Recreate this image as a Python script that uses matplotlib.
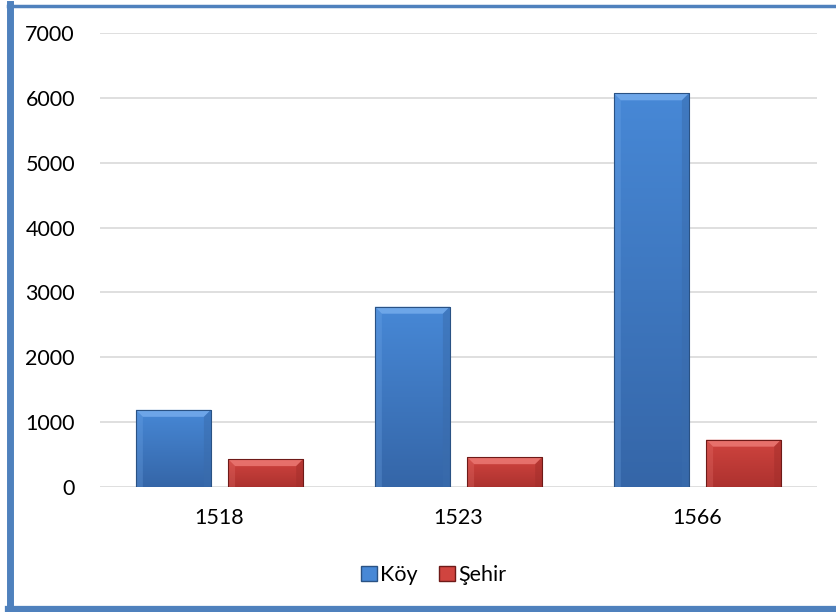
import numpy as np
import matplotlib
matplotlib.use('Agg')
import matplotlib.pyplot as plt
from matplotlib.patches import Rectangle, Polygon, Patch
from matplotlib.lines import Line2D
from matplotlib.colors import LinearSegmentedColormap

years = ['1518', '1523', '1566']
koy = [1190, 2780, 6070]
sehir = [430, 460, 730]
series_names = ['Köy', 'Şehir']

plt.rcParams['font.family'] = ['Lato', 'DejaVu Sans']

# colours: (top, bottom, light bevel, dark bevel, edge)
blue = ('#4788d6', '#3566a8', '#78aeee', '#3a6cac', '#2a5284')
red = ('#d0443f', '#ad322f', '#ee7c77', '#a32e2b', '#6e1a18')

W, H = 837, 612
fig = plt.figure(figsize=(W / 100, H / 100), dpi=100)
ax = fig.add_axes([100 / W, (H - 487) / H, 717 / W, 454 / H])

x = np.arange(len(years))
bar_w = 0.314
off = 0.193
ymax = 7000
px_x = 717 / 3.0          # pixels per category unit
px_y = 454 / ymax         # pixels per value unit
bev = 7                   # bevel size in pixels


def bevel_bar(xc, h, col):
    x0, x1 = xc - bar_w / 2, xc + bar_w / 2
    bx = bev / px_x
    by = min(bev / px_y, h * 0.3)
    rect = Rectangle((x0, 0), bar_w, h, facecolor='none', edgecolor=col[4],
                     linewidth=0.8, zorder=5)
    cmap = LinearSegmentedColormap.from_list('g', [col[1], col[0]])
    grad = np.linspace(0, 1, 100).reshape(-1, 1)
    im = ax.imshow(grad, extent=(x0, x1, 0, h), origin='lower', cmap=cmap,
                   aspect='auto', zorder=3, interpolation='bilinear')
    clip = Rectangle((x0, 0), bar_w, h, transform=ax.transData)
    im.set_clip_path(clip)
    # top bevel
    ax.add_patch(Polygon([(x0, h), (x1, h), (x1 - bx, h - by), (x0 + bx, h - by)],
                         closed=True, facecolor=col[2], edgecolor='none', zorder=4, alpha=0.8))
    # left bevel
    ax.add_patch(Polygon([(x0, 0), (x0, h), (x0 + bx, h - by), (x0 + bx, 0)],
                         closed=True, facecolor=col[2], edgecolor='none', zorder=4, alpha=0.25))
    # right bevel
    ax.add_patch(Polygon([(x1, 0), (x1, h), (x1 - bx, h - by), (x1 - bx, 0)],
                         closed=True, facecolor=col[3], edgecolor='none', zorder=4, alpha=0.5))
    ax.add_patch(rect)


for i in range(len(years)):
    bevel_bar(x[i] - off, koy[i], blue)
    bevel_bar(x[i] + off, sehir[i], red)

ax.set_xlim(-0.5, 2.5)
ax.set_ylim(0, ymax)
ax.set_yticks(np.arange(0, ymax + 1, 1000))
ax.set_xticks(x)
ax.set_xticklabels(years)
ax.yaxis.grid(True, color='#d9d9d9', linewidth=1.2)
ax.set_axisbelow(True)
for s in ax.spines.values():
    s.set_visible(False)
ax.tick_params(axis='y', length=0, pad=18, labelsize=15.5, colors='#000000')
ax.tick_params(axis='x', length=0, pad=15, labelsize=15.5, colors='#000000')

handles = [Patch(facecolor=blue[0], edgecolor=blue[4], label=series_names[0]),
           Patch(facecolor=red[0], edgecolor=red[4], label=series_names[1])]
fig.legend(handles=handles, loc='center', bbox_to_anchor=(0.518, 1 - 575 / H),
           ncol=2, frameon=False, fontsize=15.5, handlelength=0.75, handleheight=0.75,
           handletextpad=0.15, columnspacing=1.0)

# blue frame (cropped on the right)
fig.add_artist(Line2D([10.5 / W, 10.5 / W], [0, 1 - 4 / H], color='#4f81bd', linewidth=5.0))
fig.add_artist(Line2D([8 / W, 1], [1 - 5.5 / H, 1 - 5.5 / H], color='#4f81bd', linewidth=2.5))
fig.add_artist(Line2D([8 / W, 1], [3 / H, 3 / H], color='#4f81bd', linewidth=4.5))

fig.savefig('out.png', dpi=100)
